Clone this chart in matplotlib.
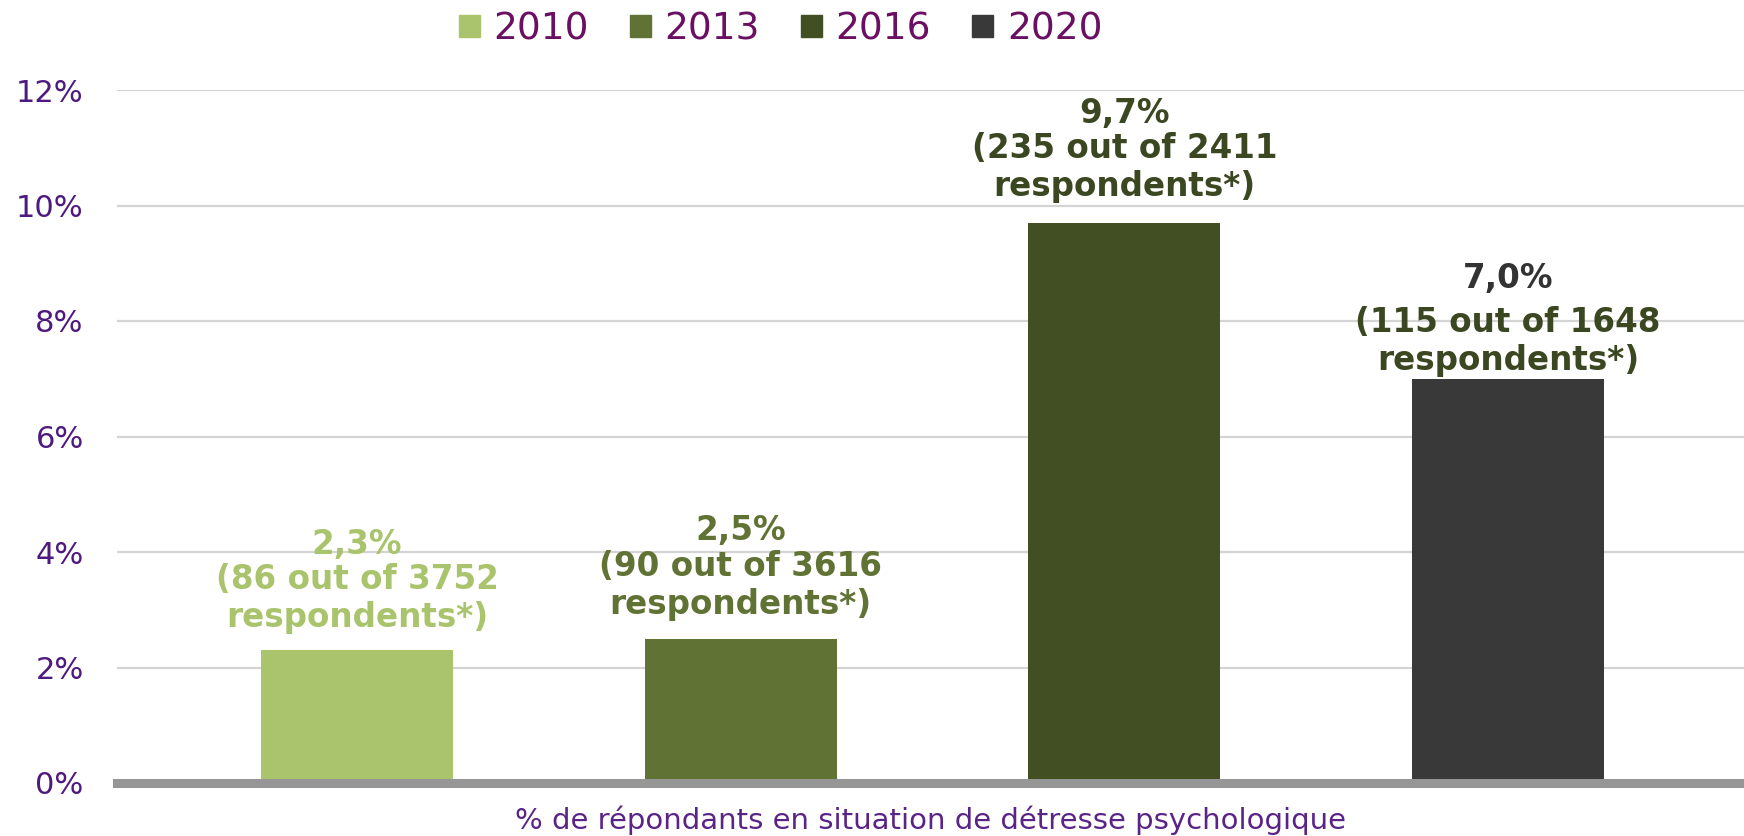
import matplotlib
matplotlib.use('Agg')
import matplotlib.pyplot as plt
from matplotlib.patches import Patch

# data
years = ['2010', '2013', '2016', '2020']
pct = [2.3, 2.5, 9.7, 7.0]
cases = [86, 90, 235, 115]
respondents = [3752, 3616, 2411, 1648]
yticks = [0, 2, 4, 6, 8, 10, 12]
xlabel = "% de répondants en situation de détresse psychologique"

bar_colors = ['#A9C46C', '#607334', '#424F23', '#393939']
pct_colors = ['#A9C46C', '#607334', '#3A4720', '#333333']
note_colors = ['#A9C46C', '#607334', '#3A4720', '#3A4720']
# text offsets above bar top (points): percent line, count block
offsets = [(76, 37), (78, 38), (79, 40), (72, 27)]

plt.rc('font', family='DejaVu Sans')

fig = plt.figure(figsize=(17.44, 8.36), dpi=100)
ax = fig.add_axes([117 / 1744, 53 / 836, 1 - 117 / 1744, 693 / 836])

x = range(len(years))
ax.bar(x, pct, width=0.5, color=bar_colors, zorder=3)

ax.set_xlim(-0.6255, 3.615)
ax.set_ylim(0, 12)
ax.set_yticks(yticks)
ax.set_yticklabels([f"{t}%" for t in yticks], color='#4E1A7F', fontsize=22)
ax.tick_params(axis='y', length=0, pad=24)
ax.set_xticks([])
for s in ax.spines.values():
    s.set_visible(False)
ax.grid(axis='y', color='#D4D4D4', linewidth=1.6, zorder=0)
ax.axhline(0, color='#969696', linewidth=6.5, zorder=4, clip_on=False)

for i, v in enumerate(pct):
    p = f"{v:.1f}".replace('.', ',') + '%'
    ax.annotate(p, xy=(i, v), xytext=(0, offsets[i][0]), textcoords='offset points',
                ha='center', va='center', fontsize=23.5, fontweight='bold', color=pct_colors[i])
    ax.annotate(f"({cases[i]} out of {respondents[i]}\nrespondents*)", xy=(i, v),
                xytext=(0, offsets[i][1]), textcoords='offset points', ha='center', va='center',
                fontsize=23.5, fontweight='bold', color=note_colors[i], linespacing=1.2)

ax.set_xlabel(xlabel, fontsize=21, color='#5A2487', labelpad=16)

handles = [Patch(color=c, label=y) for c, y in zip(bar_colors, years)]
leg = fig.legend(handles=handles, loc='center', bbox_to_anchor=(0.4475, 0.965), ncol=4,
                 frameon=False, fontsize=27, handlelength=0.56, handleheight=0.56,
                 handletextpad=0.36, columnspacing=1.1)
for t in leg.get_texts():
    t.set_color('#6A0F62')

fig.savefig('out.png', dpi=100)
